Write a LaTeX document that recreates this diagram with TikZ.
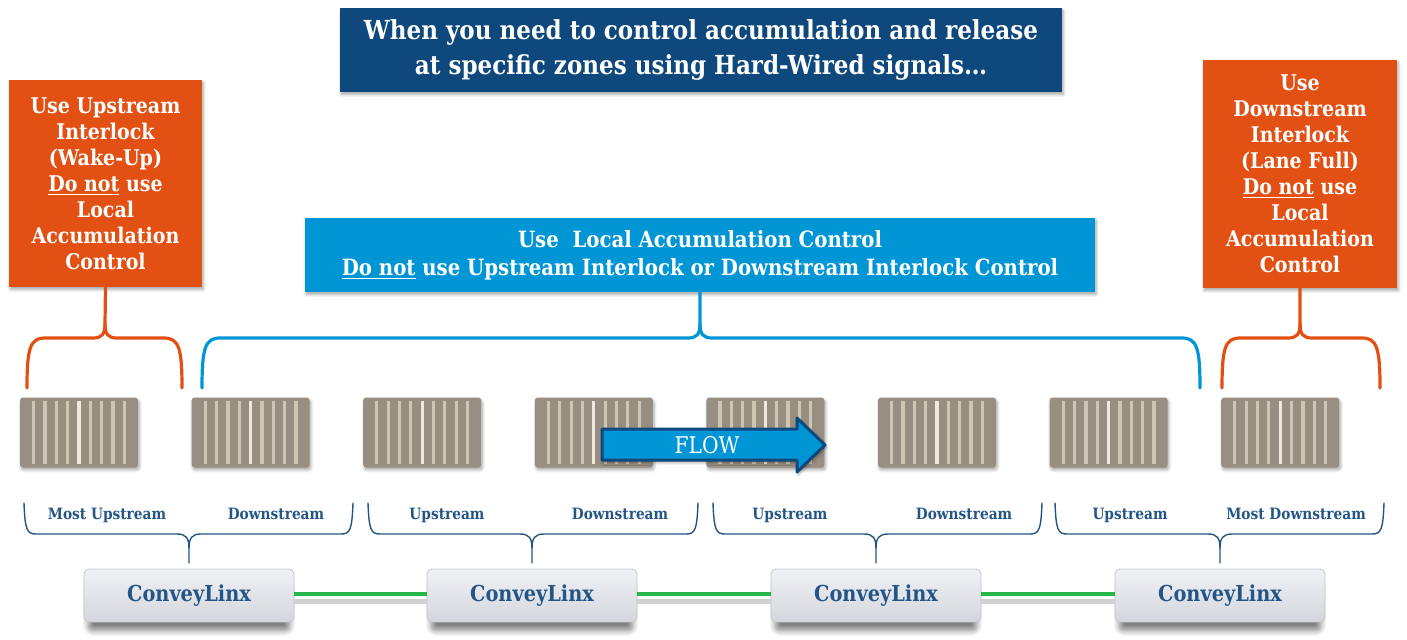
\documentclass[tikz,border=0pt]{standalone}
\usepackage{fontspec}
\setmainfont{DejaVu Serif}[FakeStretch=0.88]
\usetikzlibrary{shadows.blur}

\definecolor{navy}{RGB}{14,72,125}
\definecolor{rust}{RGB}{226,80,20}
\definecolor{sky}{RGB}{0,150,214}
\definecolor{zonegray}{RGB}{152,142,130}
\definecolor{stripecol}{RGB}{205,198,178}
\definecolor{stripelit}{RGB}{238,235,222}
\definecolor{labelblue}{RGB}{35,85,135}
\definecolor{cltop}{RGB}{240,241,245}
\definecolor{clbot}{RGB}{212,214,221}
\definecolor{clrim}{RGB}{196,199,206}
\definecolor{wiregreen}{RGB}{40,182,72}

\newcommand\fs[2]{\fontsize{#1}{#2}\selectfont}

% thick bracket hanging below a panel: #1 left x, #2 right x, #3 centre x, #4 panel node, #5 colour
\newcommand\panelbrace[5]{%
  \draw[bigbrace,#5] (#1,388) .. controls (#1,348) and (#1+3,338) .. (#1+18,338)
     -- (#3-12,338) .. controls (#3-3,338) and (#3,334) .. (#3,324) -- (#4.south);
  \draw[bigbrace,#5] (#2,388) .. controls (#2,348) and (#2-3,338) .. (#2-18,338)
     -- (#3+12,338) .. controls (#3+3,338) and (#3,334) .. (#3,324);
}
% thin bracket over two zones, pointing down to a controller: #1 left x, #2 right x, #3 controller node
\newcommand\zonebrace[3]{%
  \draw[smallbrace] (#1,503) .. controls (#1+1,530) and (#1+3,534) .. (#1+12,534)
     -- ([xshift=-6pt]#3.north |- 0,534) .. controls ([xshift=-1.5pt]#3.north |- 0,534) and (#3.north |- 0,538) .. (#3.north |- 0,548)
     -- (#3.north |- 0,563);
  \draw[smallbrace] (#2,503) .. controls (#2-1,530) and (#2-3,534) .. (#2-12,534)
     -- ([xshift=6pt]#3.north |- 0,534) .. controls ([xshift=1.5pt]#3.north |- 0,534) and (#3.north |- 0,538) .. (#3.north |- 0,548);
}

\begin{document}
\begin{tikzpicture}[x=0.5pt,y=-0.5pt,
  every node/.style={inner sep=0pt, outer sep=0pt},
  softshadow/.style={blur shadow={shadow xshift=0.6pt, shadow yshift=-1.2pt,
      shadow blur radius=1.5pt, shadow blur steps=6, shadow opacity=35}},
  panel/.style={rectangle, draw=none, text=white, align=center, font=\bfseries, softshadow},
  zone/.style={rectangle, fill=zonegray, rounded corners=1.5pt, minimum width=59pt,
      minimum height=35pt, softshadow},
  stripe/.style={stripecol, line width=1.6pt},
  stripebright/.style={stripelit, line width=1.6pt},
  bigbrace/.style={line width=1.6pt, line cap=round, line join=round},
  smallbrace/.style={labelblue, line width=0.7pt, line cap=round},
  zonelabel/.style={text=labelblue, anchor=base, font=\bfseries\fs{7.8}{9}},
  clbox/.style={rectangle, rounded corners=2.5pt, minimum width=105pt, minimum height=26.5pt,
      top color=cltop, bottom color=clbot, draw=clrim, line width=0.4pt,
      text=labelblue, font=\bfseries\fs{11}{12},
      blur shadow={shadow xshift=0pt, shadow yshift=-5pt, shadow scale=0.96,
        shadow blur radius=3pt, shadow blur steps=8, shadow opacity=50}},
  wire/.style={wiregreen, line width=2pt},
  wireshade/.style={black!18, line width=2.5pt},
  flowarrow/.style={fill=sky, draw=navy, line width=1.5pt, line join=round, softshadow}
]
\useasboundingbox (0,0) rectangle (1407,639);

% headline
\node[panel, fill=navy, minimum width=361pt, minimum height=42pt, font=\bfseries\fs{13.1}{17.5}]
  (title) at (701,50) {When you need to control accumulation and release\\at specific zones using Hard-Wired signals…};

% side panels
\node[panel, fill=rust, minimum width=96.5pt, minimum height=103.5pt, font=\bfseries\fs{10.8}{13}]
  (upbox) at (105.5,183.5) {Use Upstream\\Interlock\\(Wake-Up)\\\underline{Do not} use\\Local\\Accumulation\\Control};
\node[panel, fill=rust, minimum width=97pt, minimum height=114pt, font=\bfseries\fs{10.8}{13}]
  (downbox) at (1300,174) {Use\\Downstream\\Interlock\\(Lane Full)\\\underline{Do not} use\\Local\\Accumulation\\Control};

% middle panel
\node[panel, fill=sky, minimum width=395pt, minimum height=37pt, font=\bfseries\fs{11.2}{14}]
  (localbox) at (700,255) {Use\ \ Local Accumulation Control\\\underline{Do not} use Upstream Interlock or Downstream Interlock Control};

% brackets from panels to zones
\panelbrace{27}{182}{105}{upbox}{rust}
\panelbrace{202}{1200}{700}{localbox}{sky}
\panelbrace{1222}{1380}{1300}{downbox}{rust}

% conveyor zones with rollers
\foreach \i in {1,...,8}{
  \node[zone] (z\i) at ({79+171.6*(\i-1)},432.5) {};
  \foreach \k in {-4,-3,-2,-1,1,2,3,4}
    \draw[stripe] ([xshift=\k*5.67pt, yshift=-15.6pt]z\i.center) -- ([xshift=\k*5.67pt, yshift=15.6pt]z\i.center);
  \draw[stripebright] ([yshift=-15.6pt]z\i.center) -- ([yshift=15.6pt]z\i.center);
}

% flow arrow
\draw[flowarrow] (602,429) -- (797,429) -- (797,418) -- (825,445) -- (797,472) -- (797,460) -- (602,460) -- cycle;
\node[text=white, font=\fs{11.5}{12}] (flow) at (707,445) {FLOW};

% controllers and the network between them
\node[clbox] (cl1) at (189,595.5) {ConveyLinx};
\node[clbox] (cl2) at (532,595.5) {ConveyLinx};
\node[clbox] (cl3) at (876,595.5) {ConveyLinx};
\node[clbox] (cl4) at (1220,595.5) {ConveyLinx};

\foreach \a/\b in {cl1/cl2, cl2/cl3, cl3/cl4}{
  \draw[wireshade] ([yshift=-3pt]\a.east) -- ([yshift=-3pt]\b.west);
  \draw[wire] ([yshift=1pt]\a.east) -- ([yshift=1pt]\b.west);
}

% zone labels and brackets
\node[zonelabel] (l1) at (107,519) {Most Upstream};
\node[zonelabel] (l2) at (276,519) {Downstream};
\node[zonelabel] (l3) at (447,519) {Upstream};
\node[zonelabel] (l4) at (620,519) {Downstream};
\node[zonelabel] (l5) at (790,519) {Upstream};
\node[zonelabel] (l6) at (964,519) {Downstream};
\node[zonelabel] (l7) at (1130,519) {Upstream};
\node[zonelabel] (l8) at (1296,519) {Most Downstream};

\zonebrace{24}{353}{cl1}
\zonebrace{368}{698}{cl2}
\zonebrace{713}{1042}{cl3}
\zonebrace{1055}{1384}{cl4}
\end{tikzpicture}
\end{document}
